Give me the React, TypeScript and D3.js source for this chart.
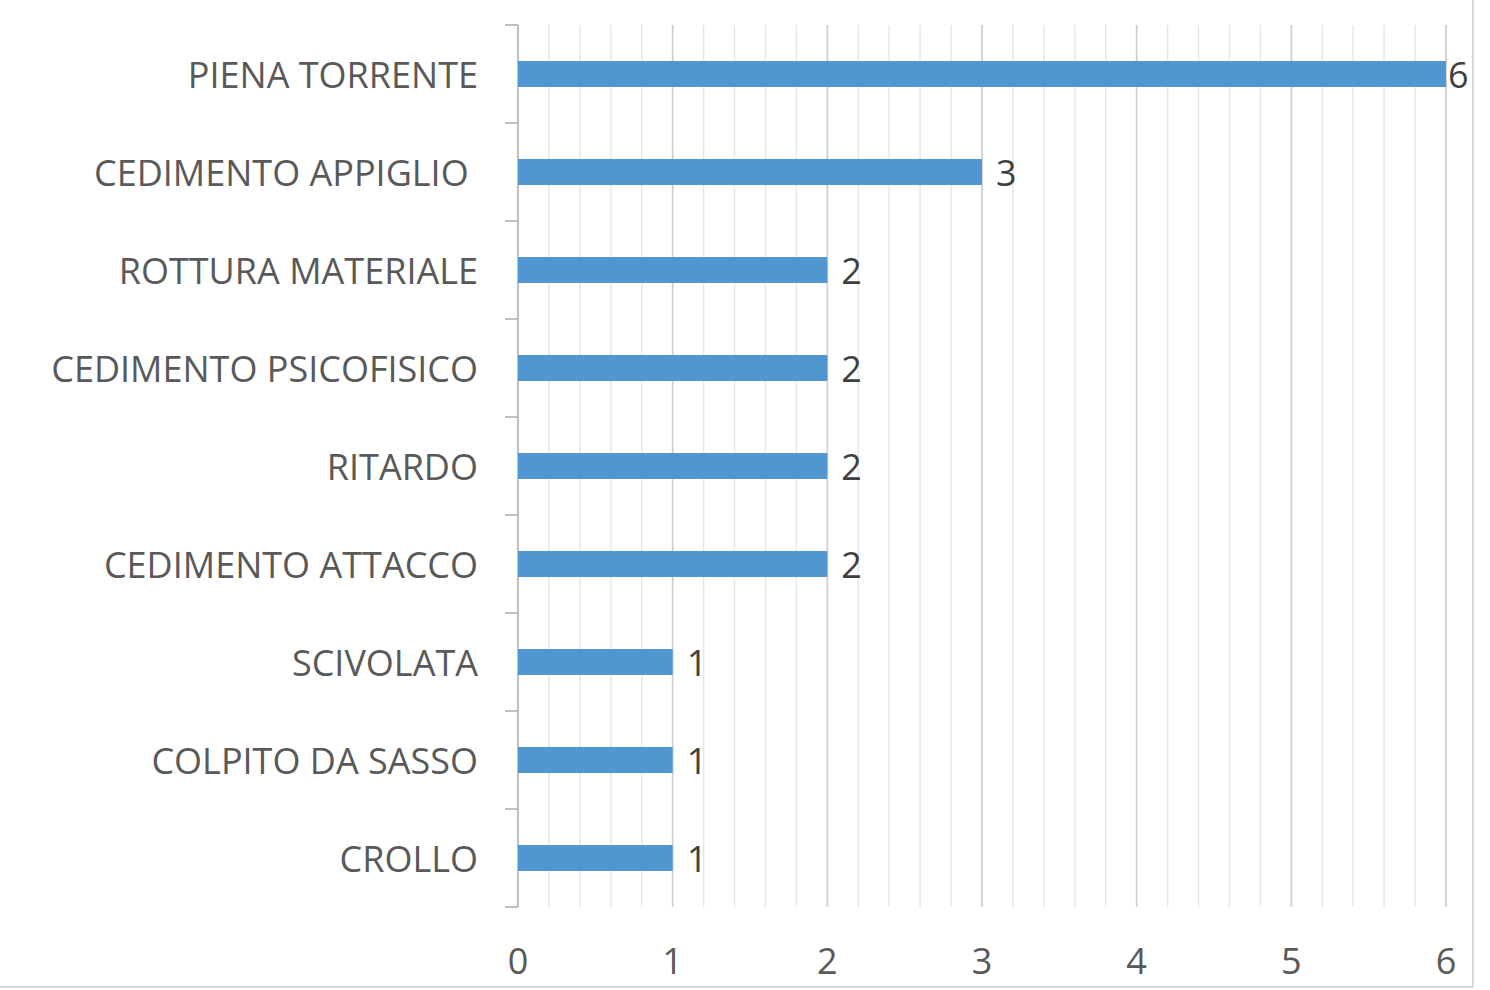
import React, {useEffect, useRef} from "react";
import * as d3 from "d3";

// categories top to bottom, as in the reference
const categories = [
    "PIENA TORRENTE",
    "CEDIMENTO APPIGLIO ",
    "ROTTURA MATERIALE",
    "CEDIMENTO PSICOFISICO",
    "RITARDO",
    "CEDIMENTO ATTACCO",
    "SCIVOLATA",
    "COLPITO DA SASSO",
    "CROLLO",
];
const counts = [6, 3, 2, 2, 2, 2, 1, 1, 1];
const xTicks = [0, 1, 2, 3, 4, 5, 6];

const W = 1490;
const H = 990;
const FONT = "'Open Sans', 'Noto Sans', sans-serif";

const App: React.FC = () => {
    const svgRef = useRef<SVGSVGElement | null>(null);

    useEffect(() => {
        if (!svgRef.current) return;
        const svg = d3.select(svgRef.current);
        svg.selectAll("*").remove();

        const margin = {top: 25, right: 44, bottom: 83, left: 518};
        const innerW = W - margin.left - margin.right;
        const innerH = H - margin.top - margin.bottom;
        const padInner = 0.735;

        const x = d3.scaleLinear().domain([0, 6]).range([margin.left, margin.left + innerW]);
        const y = d3
            .scaleBand<string>()
            .domain(categories)
            .range([margin.top, margin.top + innerH])
            .paddingInner(padInner)
            .paddingOuter(padInner / 2);

        const data = categories.map((c, i) => ({cat: c, value: counts[i]}));

        // chart frame (only right and bottom edges are visible in the crop)
        svg.append("line")
            .attr("x1", W - 17).attr("x2", W - 17).attr("y1", 0).attr("y2", H - 3)
            .attr("stroke", "#d9d9d9").attr("stroke-width", 2);
        svg.append("line")
            .attr("x1", 0).attr("x2", W - 17).attr("y1", H - 3).attr("y2", H - 3)
            .attr("stroke", "#d9d9d9").attr("stroke-width", 2);

        // minor grid every 0.2
        const minor = d3.range(0, 6.0001, 0.2).filter((v) => Math.abs(v - Math.round(v)) > 1e-6);
        svg.append("g")
            .selectAll("line")
            .data(minor)
            .join("line")
            .attr("x1", (d) => x(d)).attr("x2", (d) => x(d))
            .attr("y1", margin.top).attr("y2", margin.top + innerH)
            .attr("stroke", "#e6e6e6").attr("stroke-width", 1.5);

        // major grid
        svg.append("g")
            .selectAll("line")
            .data(xTicks.slice(1))
            .join("line")
            .attr("x1", (d) => x(d)).attr("x2", (d) => x(d))
            .attr("y1", margin.top).attr("y2", margin.top + innerH)
            .attr("stroke", "#d0d0d0").attr("stroke-width", 1.8);

        // left axis with ticks on category boundaries
        const step = y.step();
        const bounds = d3.range(categories.length + 1).map((i) => margin.top + i * step);
        const axis = svg.append("g");
        axis.append("line")
            .attr("x1", x(0)).attr("x2", x(0))
            .attr("y1", margin.top).attr("y2", margin.top + innerH)
            .attr("stroke", "#bfbfbf").attr("stroke-width", 2);
        axis.selectAll("line.tick")
            .data(bounds)
            .join("line")
            .attr("class", "tick")
            .attr("x1", x(0) - 13).attr("x2", x(0))
            .attr("y1", (d) => d).attr("y2", (d) => d)
            .attr("stroke", "#bfbfbf").attr("stroke-width", 2);

        // bars
        svg.append("g")
            .selectAll("rect")
            .data(data)
            .join("rect")
            .attr("x", x(0))
            .attr("y", (d) => y(d.cat)!)
            .attr("width", (d) => x(d.value) - x(0))
            .attr("height", y.bandwidth())
            .attr("fill", "#5296d1");

        // category labels
        svg.append("g")
            .selectAll("text")
            .data(data)
            .join("text")
            .attr("x", x(0) - 40)
            .attr("y", (d) => y(d.cat)! + y.bandwidth() / 2)
            .attr("dy", "0.39em")
            .attr("text-anchor", "end")
            .style("white-space", "pre")
            .attr("font-family", FONT)
            .attr("font-size", 36)
            .attr("fill", "#595959")
            .text((d) => d.cat);

        // value labels (Excel keeps the last one inside the plot edge)
        const plotRight = margin.left + innerW;
        svg.append("g")
            .selectAll("text")
            .data(data)
            .join("text")
            .attr("x", (d) => Math.min(x(d.value) + 14, plotRight + 2))
            .attr("y", (d) => y(d.cat)! + y.bandwidth() / 2)
            .attr("dy", "0.4em")
            .attr("font-family", FONT)
            .attr("font-size", 36)
            .attr("fill", "#404040")
            .text((d) => String(d.value));

        // x tick labels
        svg.append("g")
            .selectAll("text")
            .data(xTicks)
            .join("text")
            .attr("x", (d) => x(d))
            .attr("y", H - 16)
            .attr("text-anchor", "middle")
            .attr("font-family", FONT)
            .attr("font-size", 36)
            .attr("fill", "#595959")
            .text((d) => String(d));
    }, []);

    return (
        <svg
            ref={svgRef}
            width={W}
            height={H}
            style={{position: "absolute", left: 0, top: 0, background: "#fff"}}
        />
    );
};

export default App;
